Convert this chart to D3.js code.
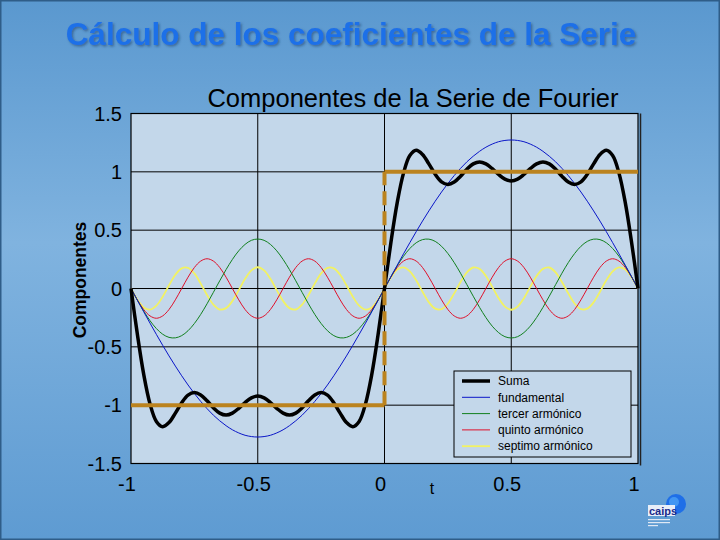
<!DOCTYPE html>
<html>
<head>
<meta charset="utf-8">
<script src="https://cdn.jsdelivr.net/npm/d3@7/dist/d3.min.js"></script>
<style>
  body { margin: 0; background: #5f9bd0; }
  svg text { font-family: Arial, "Liberation Sans", sans-serif; }
</style>
</head>
<body>
<script>
// sample times
const tValues = [
  -1, -0.975, -0.95, -0.925, -0.9, -0.875, -0.85, -0.825, -0.8, -0.775,
  -0.75, -0.725, -0.7, -0.675, -0.65, -0.625, -0.6, -0.575, -0.55, -0.525,
  -0.5, -0.475, -0.45, -0.425, -0.4, -0.375, -0.35, -0.325, -0.3, -0.275,
  -0.25, -0.225, -0.2, -0.175, -0.15, -0.125, -0.1, -0.075, -0.05, -0.025,
  0, 0.025, 0.05, 0.075, 0.1, 0.125, 0.15, 0.175, 0.2, 0.225,
  0.25, 0.275, 0.3, 0.325, 0.35, 0.375, 0.4, 0.425, 0.45, 0.475,
  0.5, 0.525, 0.55, 0.575, 0.6, 0.625, 0.65, 0.675, 0.7, 0.725,
  0.75, 0.775, 0.8, 0.825, 0.85, 0.875, 0.9, 0.925, 0.95, 0.975, 1
];

const suma = [
  0, -0.391, -0.734, -0.989, -1.139, -1.184, -1.149, -1.068, -0.979, -0.914,
  -0.892, -0.912, -0.963, -1.022, -1.068, -1.085, -1.068, -1.027, -0.977, -0.937,
  -0.922, -0.937, -0.977, -1.027, -1.068, -1.085, -1.068, -1.022, -0.963, -0.912,
  -0.892, -0.914, -0.979, -1.068, -1.149, -1.184, -1.139, -0.989, -0.734, -0.391,
  0, 0.391, 0.734, 0.989, 1.139, 1.184, 1.149, 1.068, 0.979, 0.914,
  0.892, 0.912, 0.963, 1.022, 1.068, 1.085, 1.068, 1.027, 0.977, 0.937,
  0.922, 0.937, 0.977, 1.027, 1.068, 1.085, 1.068, 1.022, 0.963, 0.912,
  0.892, 0.914, 0.979, 1.068, 1.149, 1.184, 1.139, 0.989, 0.734, 0.391, 0
];

const fundamental = [
  0, -0.100, -0.199, -0.297, -0.393, -0.487, -0.578, -0.665, -0.748, -0.827,
  -0.900, -0.968, -1.030, -1.086, -1.134, -1.176, -1.211, -1.238, -1.258, -1.269,
  -1.273, -1.269, -1.258, -1.238, -1.211, -1.176, -1.134, -1.086, -1.030, -0.968,
  -0.900, -0.827, -0.748, -0.665, -0.578, -0.487, -0.393, -0.297, -0.199, -0.100,
  0, 0.100, 0.199, 0.297, 0.393, 0.487, 0.578, 0.665, 0.748, 0.827,
  0.900, 0.968, 1.030, 1.086, 1.134, 1.176, 1.211, 1.238, 1.258, 1.269,
  1.273, 1.269, 1.258, 1.238, 1.211, 1.176, 1.134, 1.086, 1.030, 0.968,
  0.900, 0.827, 0.748, 0.665, 0.578, 0.487, 0.393, 0.297, 0.199, 0.100, 0
];

const tercer = [
  0, -0.099, -0.193, -0.276, -0.343, -0.392, -0.419, -0.423, -0.404, -0.362,
  -0.300, -0.222, -0.131, -0.033, 0.066, 0.162, 0.249, 0.323, 0.378, 0.413,
  0.424, 0.413, 0.378, 0.323, 0.249, 0.162, 0.066, -0.033, -0.131, -0.222,
  -0.300, -0.362, -0.404, -0.423, -0.419, -0.392, -0.343, -0.276, -0.193, -0.099,
  0, 0.099, 0.193, 0.276, 0.343, 0.392, 0.419, 0.423, 0.404, 0.362,
  0.300, 0.222, 0.131, 0.033, -0.066, -0.162, -0.249, -0.323, -0.378, -0.413,
  -0.424, -0.413, -0.378, -0.323, -0.249, -0.162, -0.066, 0.033, 0.131, 0.222,
  0.300, 0.362, 0.404, 0.423, 0.419, 0.392, 0.343, 0.276, 0.193, 0.099, 0
];

const quinto = [
  0, -0.097, -0.180, -0.235, -0.255, -0.235, -0.180, -0.097, 0, 0.097,
  0.180, 0.235, 0.255, 0.235, 0.180, 0.097, 0, -0.097, -0.180, -0.235,
  -0.255, -0.235, -0.180, -0.097, 0, 0.097, 0.180, 0.235, 0.255, 0.235,
  0.180, 0.097, 0, -0.097, -0.180, -0.235, -0.255, -0.235, -0.180, -0.097,
  0, 0.097, 0.180, 0.235, 0.255, 0.235, 0.180, 0.097, 0, -0.097,
  -0.180, -0.235, -0.255, -0.235, -0.180, -0.097, 0, 0.097, 0.180, 0.235,
  0.255, 0.235, 0.180, 0.097, 0, -0.097, -0.180, -0.235, -0.255, -0.235,
  -0.180, -0.097, 0, 0.097, 0.180, 0.235, 0.255, 0.235, 0.180, 0.097, 0
];

const septimo = [
  0, -0.095, -0.162, -0.181, -0.147, -0.070, 0.028, 0.118, 0.173, 0.177,
  0.129, 0.042, -0.056, -0.138, -0.180, -0.168, -0.107, -0.014, 0.083, 0.155,
  0.182, 0.155, 0.083, -0.014, -0.107, -0.168, -0.180, -0.138, -0.056, 0.042,
  0.129, 0.177, 0.173, 0.118, 0.028, -0.070, -0.147, -0.181, -0.162, -0.095,
  0, 0.095, 0.162, 0.181, 0.147, 0.070, -0.028, -0.118, -0.173, -0.177,
  -0.129, -0.042, 0.056, 0.138, 0.180, 0.168, 0.107, 0.014, -0.083, -0.155,
  -0.182, -0.155, -0.083, 0.014, 0.107, 0.168, 0.180, 0.138, 0.056, -0.042,
  -0.129, -0.177, -0.173, -0.118, -0.028, 0.070, 0.147, 0.181, 0.162, 0.095, 0
];

// square wave corners
const squareT = [-1, 0, 0, 1];
const squareY = [-1, -1, 1, 1];

const xTicks = [-1, -0.5, 0, 0.5, 1];
const yTicks = [-1.5, -1, -0.5, 0, 0.5, 1, 1.5];

const legendNames = ['Suma', 'fundamental', 'tercer armónico', 'quinto armónico', 'septimo armónico'];

// ---- layout
const W = 720, H = 540;
const plot = { left: 131, right: 638, top: 113.5, bottom: 463.5 };
const plotBg = '#c3d7ea';

const svg = d3.select('body').append('svg')
  .attr('width', W)
  .attr('height', H);

const defs = svg.append('defs');
const grad = defs.append('linearGradient')
  .attr('id', 'bg').attr('x1', 0).attr('y1', 0).attr('x2', 0).attr('y2', 1);
grad.append('stop').attr('offset', '0%').attr('stop-color', '#5a98cf');
grad.append('stop').attr('offset', '45%').attr('stop-color', '#80b3df');
grad.append('stop').attr('offset', '100%').attr('stop-color', '#5e9bd2');

const shadow = defs.append('filter').attr('id', 'shadow')
  .attr('x', '-5%').attr('y', '-20%').attr('width', '110%').attr('height', '150%');
shadow.append('feDropShadow')
  .attr('dx', 1.5).attr('dy', 1.5).attr('stdDeviation', 1)
  .attr('flood-color', '#1d3f66').attr('flood-opacity', 0.55);

svg.append('rect')
  .attr('width', W).attr('height', H)
  .attr('fill', 'url(#bg)')
  .attr('stroke', '#2f5d88').attr('stroke-width', 3);

// main title
svg.append('text')
  .attr('x', 351).attr('y', 45)
  .attr('text-anchor', 'middle')
  .attr('font-size', 31.5).attr('font-weight', 'bold')
  .attr('fill', '#1f6fe8')
  .attr('filter', 'url(#shadow)')
  .text('Cálculo de los coeficientes de la Serie');

// scales
const x = d3.scaleLinear().domain([-1, 1]).range([plot.left, plot.right]);
const y = d3.scaleLinear().domain([-1.5, 1.5]).range([plot.bottom, plot.top]);

// plot background + right shadow edge
svg.append('line')
  .attr('x1', plot.right + 2.5).attr('x2', plot.right + 2.5)
  .attr('y1', plot.top).attr('y2', plot.bottom + 2)
  .attr('stroke', '#222').attr('stroke-width', 1.5);
svg.append('rect')
  .attr('x', plot.left).attr('y', plot.top)
  .attr('width', plot.right - plot.left).attr('height', plot.bottom - plot.top)
  .attr('fill', plotBg);

// grid lines
svg.append('g')
  .selectAll('line')
  .data(yTicks.slice(1, -1))
  .enter().append('line')
  .attr('x1', plot.left).attr('x2', plot.right)
  .attr('y1', d => y(d)).attr('y2', d => y(d))
  .attr('stroke', '#000').attr('stroke-width', 1);

svg.append('g')
  .selectAll('line')
  .data(xTicks.slice(1, -1))
  .enter().append('line')
  .attr('x1', d => x(d)).attr('x2', d => x(d))
  .attr('y1', plot.top).attr('y2', plot.bottom)
  .attr('stroke', '#000').attr('stroke-width', 1);

svg.append('rect')
  .attr('x', plot.left).attr('y', plot.top)
  .attr('width', plot.right - plot.left).attr('height', plot.bottom - plot.top)
  .attr('fill', 'none')
  .attr('stroke', '#000').attr('stroke-width', 1.2);

// axis tick labels
svg.append('g')
  .selectAll('text')
  .data(yTicks)
  .enter().append('text')
  .attr('x', 122)
  .attr('y', d => y(d))
  .attr('dy', '0.36em')
  .attr('text-anchor', 'end')
  .attr('font-size', 20)
  .attr('fill', '#000')
  .text(d => String(d));

svg.append('g')
  .selectAll('text')
  .data(xTicks)
  .enter().append('text')
  .attr('x', d => x(d) - 4)
  .attr('y', 491)
  .attr('text-anchor', 'middle')
  .attr('font-size', 20)
  .attr('fill', '#000')
  .text(d => String(d));

svg.append('text')
  .attr('x', 432).attr('y', 494)
  .attr('text-anchor', 'middle')
  .attr('font-size', 16)
  .text('t');

svg.append('text')
  .attr('transform', 'translate(86,280) rotate(-90)')
  .attr('text-anchor', 'middle')
  .attr('font-size', 17.5).attr('font-weight', 'bold')
  .text('Componentes');

svg.append('text')
  .attr('x', 413).attr('y', 107)
  .attr('text-anchor', 'middle')
  .attr('font-size', 25.5)
  .attr('fill', '#000')
  .text('Componentes de la Serie de Fourier');

// curves
const series = [
  { name: 'septimo armónico', values: septimo, color: '#f2f262', width: 1.8 },
  { name: 'quinto armónico', values: quinto, color: '#e0102a', width: 1 },
  { name: 'tercer armónico', values: tercer, color: '#11801e', width: 1 },
  { name: 'fundamental', values: fundamental, color: '#0a16c8', width: 1 },
  { name: 'Suma', values: suma, color: '#000000', width: 3.5 }
];

const line = d3.line()
  .x(d => x(d[0]))
  .y(d => y(d[1]))
  .curve(d3.curveCatmullRom.alpha(0.5));

const curves = svg.append('g');
series.forEach(s => {
  curves.append('path')
    .datum(tValues.map((t, i) => [t, s.values[i]]))
    .attr('d', line)
    .attr('fill', 'none')
    .attr('stroke', s.color)
    .attr('stroke-width', s.width)
    .attr('stroke-linejoin', 'round');
});

// square wave (solid horizontals, dashed jump)
const sq = squareT.map((t, i) => [t, squareY[i]]);
const sqColor = '#bb831f';
for (let i = 0; i < sq.length - 1; i++) {
  const a = sq[i], b = sq[i + 1];
  svg.append('line')
    .attr('x1', x(a[0])).attr('y1', y(a[1]))
    .attr('x2', x(b[0])).attr('y2', y(b[1]))
    .attr('stroke', sqColor)
    .attr('stroke-width', 4)
    .attr('stroke-dasharray', a[0] === b[0] ? '14,6' : null);
}

// legend
const lg = svg.append('g').attr('transform', 'translate(454,371)');
lg.append('rect')
  .attr('width', 177).attr('height', 86)
  .attr('fill', plotBg)
  .attr('stroke', '#000').attr('stroke-width', 1);

const legendColors = { 'Suma': '#000000', 'fundamental': '#0a16c8', 'tercer armónico': '#11801e', 'quinto armónico': '#e0102a', 'septimo armónico': '#f2f262' };
const legendWidths = { 'Suma': 3.5, 'fundamental': 1, 'tercer armónico': 1, 'quinto armónico': 1, 'septimo armónico': 1.8 };

legendNames.forEach((n, i) => {
  const yy = 10 + i * 16.3;
  lg.append('line')
    .attr('x1', 8).attr('x2', 36)
    .attr('y1', yy).attr('y2', yy)
    .attr('stroke', legendColors[n])
    .attr('stroke-width', legendWidths[n]);
  lg.append('text')
    .attr('x', 44).attr('y', yy)
    .attr('dy', '0.35em')
    .attr('font-size', 12)
    .attr('fill', '#000')
    .text(n);
});

// little logo bottom right
const logo = svg.append('g').attr('transform', 'translate(648,494)');
logo.append('circle').attr('cx', 28).attr('cy', 10).attr('r', 10).attr('fill', '#1f6fe8');
logo.append('circle').attr('cx', 26).attr('cy', 8).attr('r', 5).attr('fill', '#4aa0f5').attr('opacity', 0.8);
logo.append('rect').attr('x', 0).attr('y', 11).attr('width', 27).attr('height', 11).attr('fill', '#e8eef8');
logo.append('text')
  .attr('x', 1).attr('y', 21)
  .attr('font-size', 11).attr('font-weight', 'bold')
  .attr('fill', '#1a2a8a')
  .text('caips');
[25, 28, 31].forEach((yy, i) => {
  logo.append('rect').attr('x', 0).attr('y', yy).attr('width', i === 2 ? 10 : 22).attr('height', 1.2).attr('fill', '#dfe8f4');
});
</script>
</body>
</html>
